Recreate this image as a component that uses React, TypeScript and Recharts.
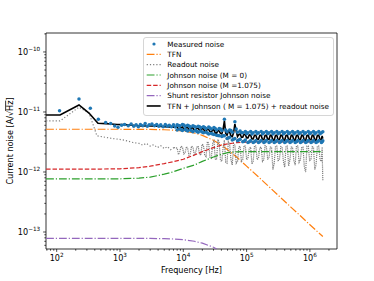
import {
  ComposedChart,
  Line,
  Scatter,
  XAxis,
  YAxis,
  Legend,
  ReferenceArea,
} from "recharts";

// frequencies in Hz, noise values in pA/√Hz

// smooth model curves
const modelFreq = [
  68, 200, 500, 1000, 2000, 3000, 5000, 7000, 10000, 15000, 20000, 30000,
  40000, 50000, 70000, 100000, 150000, 200000, 300000, 500000, 700000,
  1000000, 1600000,
];
const tfnNoise = [
  5.15, 5.15, 5.15, 5.15, 5.13, 5.12, 5.06, 4.97, 4.81, 4.46, 4.08, 3.37,
  2.81, 2.35, 1.76, 1.25, 0.85, 0.64, 0.43, 0.26, 0.188, 0.132, 0.084,
];
const johnsonM0 = [
  0.765, 0.765, 0.765, 0.77, 0.79, 0.82, 0.92, 1.01, 1.15, 1.31, 1.5, 1.78,
  1.98, 2.1, 2.17, 2.18, 2.18, 2.18, 2.18, 2.18, 2.18, 2.18, 2.18,
];
const johnsonM1075 = [
  1.12, 1.12, 1.12, 1.13, 1.18, 1.25, 1.38, 1.49, 1.63, 1.92, 2.18, 2.55,
  2.8, 2.95, 3.08, 3.14, 3.17, 3.18, 3.18, 3.18, 3.18, 3.18, 3.18,
];
const shuntNoise = [
  0.0785, 0.0785, 0.0785, 0.0785, 0.0785, 0.0783, 0.0774, 0.0764, 0.0744,
  0.0701, 0.0651, 0.0558, 0.0468, 0.04, 0.0306, 0.0224, 0.015, 0.0115,
  0.0078, 0.0047, 0.0034, 0.0024, 0.0015,
];

// low-frequency part of the noisy curves
const readoutLfFreq = [
  68, 113, 225, 324, 433, 721, 1160, 1600, 2000, 2300, 2600, 3000, 3400, 3900,
  4400, 5000, 5600, 6300, 7100,
];
const readoutLf = [
  7.1, 7.1, 12.0, 9.6, 4.0, 3.65, 3.4, 3.1, 3.0, 2.8, 3.0, 2.7, 2.85, 2.55,
  2.75, 2.45, 2.65, 2.35, 2.55,
];
const totalLfFreq = [
  68, 113, 225, 324, 449, 600, 721, 900, 1200, 1600, 2150, 3000, 4000, 5000,
  6000, 7000,
];
const totalLf = [
  8.9, 8.9, 13.1, 9.6, 6.5, 6.4, 6.3, 6.2, 6.15, 6.0, 5.85, 5.85, 5.8, 5.7,
  5.65, 5.6,
];
const measuredLfFreq = [
  111, 225, 340, 455, 594, 713, 823, 930, 1060, 1180, 1350, 1500, 1650, 1800,
  1950, 2100, 2300, 2500, 2700, 2900, 3200, 3500, 3800, 4100, 4400, 4800,
  5200, 5600, 6000, 6500, 7000, 7500,
];
const measuredLf = [
  10.5, 16.5, 11.5, 7.55, 6.7, 6.45, 5.85, 5.55, 6.0, 6.2, 5.9, 6.3, 5.8, 6.1,
  5.7, 6.2, 5.9, 6.4, 5.8, 6.1, 6.3, 5.9, 6.2, 5.8, 6.1, 5.7, 6.2, 5.8, 6.0,
  5.7, 6.1, 5.6,
];

// high-frequency part (dense, noisy): two interleaved frequency grids
const hfFreq = [
  8000, 8800, 9700, 10700, 11700, 12900, 14200, 15600, 17200, 18900, 20800,
  22900, 25200, 27700, 30500, 33500, 36900, 40600, 44600, 49100, 54000, 59400,
  65300, 71900, 79000, 86900, 95600, 105000, 116000, 127000, 140000, 154000,
  170000, 187000, 205000, 226000, 248000, 273000, 300000, 330000, 364000,
  400000, 440000, 484000, 532000, 585000, 644000, 708000, 779000, 857000,
  943000, 1040000, 1140000, 1250000, 1380000, 1520000, 1600000,
];
const hfMidFreq = [
  8400, 9240, 10200, 11200, 12300, 13500, 14900, 16400, 18000, 19800, 21800,
  24000, 26400, 29100, 32000, 35200, 38700, 42600, 46800, 51500, 56600, 62300,
  68500, 75400, 82900, 91100, 100200, 110400, 121400, 133400, 146800, 161900,
  178300, 195800, 215300, 236600, 260100, 286200, 314600, 346600, 381600,
  419500, 461500, 507500, 558000, 613800, 675200, 742600, 817100, 899000,
  990300, 1089000, 1194000, 1313000, 1447000, 1560000,
];
const readoutHf = [
  2.5, 2.2, 2.6, 2.1, 2.5, 2.0, 2.6, 2.1, 2.7, 1.9, 2.8, 1.8, 3.0, 1.7, 3.3,
  1.6, 3.1, 1.5, 3.4, 1.4, 2.9, 1.3, 2.8, 1.5, 2.7, 1.6, 2.7, 1.7, 2.6, 1.5,
  2.7, 1.7, 2.6, 1.6, 2.7, 1.7, 2.6, 1.4, 2.7, 1.6, 2.6, 1.2, 2.7, 1.6, 2.6,
  1.3, 2.7, 1.6, 2.6, 1.0, 2.7, 1.6, 2.6, 1.3, 2.7, 1.5, 0.72,
];
const readoutHfMid = [
  1.95, 2.7, 2.0, 2.65, 1.9, 2.7, 1.95, 2.6, 2.0, 2.9, 1.9, 3.2, 1.75, 3.0,
  1.65, 3.5, 1.55, 2.6, 1.45, 3.2, 1.6, 3.0, 1.4, 2.6, 1.5, 2.75, 1.6, 2.5,
  1.35, 2.75, 1.6, 2.55, 1.5, 2.75, 1.65, 2.6, 1.1, 2.7, 1.55, 2.65, 1.5, 2.7,
  1.25, 2.6, 1.55, 2.75, 1.45, 2.6, 1.2, 2.7, 1.55, 2.65, 1.1, 2.7, 1.6, 2.6,
];
const totalHf = [
  5.6, 5.3, 5.6, 5.2, 5.5, 5.1, 5.4, 5.0, 5.3, 4.9, 5.2, 4.7, 5.1, 4.6, 5.0,
  4.4, 4.8, 4.3, 7.1, 4.1, 4.6, 3.9, 6.3, 3.9, 4.3, 3.8, 4.2, 3.7, 4.1, 3.55,
  4.1, 3.5, 4.1, 3.45, 4.1, 3.5, 4.05, 3.4, 4.1, 3.45, 4.05, 3.4, 4.1, 3.45,
  4.05, 3.4, 4.1, 3.45, 4.05, 3.35, 4.1, 3.45, 4.05, 3.4, 4.1, 3.45, 3.6,
];
const totalHfMid = [
  5.2, 5.5, 5.15, 5.5, 5.1, 5.45, 5.0, 5.35, 4.95, 5.3, 4.8, 5.2, 4.7, 5.05,
  4.5, 4.95, 4.4, 5.2, 4.4, 4.8, 4.0, 4.5, 4.8, 4.2, 3.8, 4.25, 3.7, 4.15,
  3.55, 4.1, 3.5, 4.1, 3.45, 4.05, 3.5, 4.1, 3.4, 4.05, 3.45, 4.1, 3.4, 4.05,
  3.45, 4.1, 3.4, 4.05, 3.45, 4.1, 3.35, 4.05, 3.45, 4.1, 3.4, 4.05, 3.45, 4.0,
];
const measuredHfUpper = [
  6.1, 5.9, 6.2, 5.8, 6.0, 5.7, 5.9, 5.6, 5.8, 5.5, 5.7, 5.3, 5.6, 5.2, 5.5,
  5.0, 5.3, 4.9, 7.6, 4.7, 5.0, 4.6, 6.9, 4.6, 4.8, 4.5, 4.75, 4.5, 4.75,
  4.5, 4.75, 4.5, 4.75, 4.5, 4.75, 4.5, 4.75, 4.5, 4.75, 4.5, 4.75, 4.5, 4.75,
  4.5, 4.75, 4.5, 4.75, 4.5, 4.75, 4.5, 4.75, 4.5, 4.75, 4.5, 4.75, 4.5, 4.7,
];
const measuredHfLower = [
  5.0, 5.2, 4.9, 5.1, 4.8, 5.0, 4.7, 4.9, 4.6, 4.8, 4.5, 4.6, 4.3, 4.4, 4.2,
  4.1, 4.0, 3.9, 4.0, 3.6, 3.8, 3.4, 3.6, 3.3, 3.5, 3.2, 3.4, 3.1, 3.35, 3.1,
  3.35, 3.1, 3.35, 3.1, 3.35, 3.1, 3.35, 3.1, 3.35, 3.1, 3.35, 3.1, 3.35, 3.1,
  3.35, 3.1, 3.35, 3.1, 3.35, 3.1, 3.35, 3.1, 3.35, 3.1, 3.35, 3.1, 3.3,
];
const measuredHfMid = [
  5.95, 5.05, 6.05, 4.95, 5.85, 4.85, 5.75, 4.75, 5.7, 4.65, 5.5, 4.45, 5.4,
  4.3, 5.3, 4.05, 5.2, 4.0, 5.0, 3.7, 4.9, 3.5, 5.2, 3.4, 4.5, 3.25, 4.35,
  3.2, 4.3, 3.2, 4.35, 3.2, 4.3, 3.2, 4.35, 3.2, 4.3, 3.2, 4.35, 3.2, 4.3,
  3.2, 4.35, 3.2, 4.3, 3.2, 4.35, 3.2, 4.3, 3.2, 4.35, 3.2, 4.3, 3.2, 4.35,
  3.2,
];

const xTicks = [
  70, 80, 90, 100, 200, 300, 400, 500, 600, 700, 800, 900, 1000, 2000, 3000,
  4000, 5000, 6000, 7000, 8000, 9000, 10000, 20000, 30000, 40000, 50000,
  60000, 70000, 80000, 90000, 100000, 200000, 300000, 400000, 500000, 600000,
  700000, 800000, 900000, 1000000, 2000000,
];
const yTicks = [
  0.06, 0.07, 0.08, 0.09, 0.1, 0.2, 0.3, 0.4, 0.5, 0.6, 0.7, 0.8, 0.9, 1, 2,
  3, 4, 5, 6, 7, 8, 9, 10, 20, 30, 40, 50, 60, 70, 80, 90, 100, 200,
];

const legendLabels = [
  "Measured noise",
  "TFN",
  "Readout noise",
  "Johnson noise (M = 0)",
  "Johnson noise (M =1.075)",
  "Shunt resistor Johnson noise",
  "TFN + Johnson ( M = 1.075) + readout noise",
];

const X_DOMAIN: [number, number] = [67.8, 2.68e6];
const Y_DOMAIN: [number, number] = [0.0521, 207];

const DASHDOT = "7.8 1.95 1.2 1.95";
const DASHED = "4.5 1.95";
const DOTTED = "1.2 2";

const styles = [
  { color: "#1f77b4", dash: "", width: 0 },
  { color: "#ff7f0e", dash: DASHDOT, width: 1.2 },
  { color: "#7f7f7f", dash: DOTTED, width: 1.2 },
  { color: "#2ca02c", dash: DASHDOT, width: 1.2 },
  { color: "#d62728", dash: DASHED, width: 1.2 },
  { color: "#9467bd", dash: DASHDOT, width: 1.2 },
  { color: "#000000", dash: "", width: 1.6 },
];

const pts = (freq: number[], vals: number[]) =>
  freq.map((f, i) => ({ f, v: vals[i] }));
const byFreq = (a: { f: number }, b: { f: number }) => a.f - b.f;

const measuredData = [
  ...pts(measuredLfFreq, measuredLf),
  ...pts(hfFreq, measuredHfUpper),
  ...pts(hfFreq, measuredHfLower),
  ...pts(hfMidFreq, measuredHfMid),
];
const tfnData = pts(modelFreq, tfnNoise);
const readoutLfData = pts(readoutLfFreq, readoutLf);
// the dense part overlaps itself so much that it reads as a solid band
const readoutHfData = [
  readoutLfData[readoutLfData.length - 1],
  ...[...pts(hfFreq, readoutHf), ...pts(hfMidFreq, readoutHfMid)].sort(byFreq),
];
const j0Data = pts(modelFreq, johnsonM0);
const j1Data = pts(modelFreq, johnsonM1075);
const shuntData = pts(modelFreq, shuntNoise);
const totalData = [
  ...pts(totalLfFreq, totalLf),
  ...[...pts(hfFreq, totalHf), ...pts(hfMidFreq, totalHfMid)].sort(byFreq),
];

const FONT = 8.1;
const SUP = 5.7;
const LEGEND_FONT = 7.25;

function isMajor(v: number) {
  const lg = Math.log10(v);
  return Math.abs(lg - Math.round(lg)) < 1e-6;
}

function XTick({ x, y, payload }: any) {
  const major = isMajor(payload.value);
  const exp = Math.round(Math.log10(payload.value));
  return (
    <g>
      <line x1={x} x2={x} y1={y} y2={y + (major ? 2.9 : 1.7)} stroke="#000" strokeWidth={0.7} />
      {major && (
        <text x={x} y={y + 12} textAnchor="middle" fontSize={FONT} fill="#000">
          10<tspan dy={-3.6} fontSize={SUP}>{exp}</tspan>
        </text>
      )}
    </g>
  );
}

function YTick({ x, y, payload }: any) {
  const major = isMajor(payload.value);
  const exp = Math.round(Math.log10(payload.value)) - 12;
  return (
    <g>
      <line x1={x - (major ? 2.9 : 1.7)} x2={x} y1={y} y2={y} stroke="#000" strokeWidth={0.7} />
      {major && (
        <text x={x - 5.8} y={y + 3} textAnchor="end" fontSize={FONT} fill="#000">
          10<tspan dy={-3.6} fontSize={SUP}>{"\u2212" + Math.abs(exp)}</tspan>
        </text>
      )}
    </g>
  );
}

function renderLegend() {
  return (
    <svg width={191} height={79} style={{ display: "block" }}>
      <rect x={0.5} y={0.5} width={190} height={78} rx={2.5} fill="#fff" fillOpacity={0.8} stroke="#cccccc" strokeWidth={0.8} />
      {legendLabels.map((label, i) => {
        const cy = 7 + i * 10.33;
        const s = styles[i];
        return (
          <g key={label}>
            {i === 0 ? (
              <circle cx={11} cy={cy} r={1.6} fill={s.color} />
            ) : (
              <line x1={3.7} x2={17.7} y1={cy} y2={cy} stroke={s.color} strokeWidth={s.width} strokeDasharray={s.dash || undefined} />
            )}
            <text x={24.3} y={cy + 2.6} fontSize={LEGEND_FONT} fill="#000">
              {label}
            </text>
          </g>
        );
      })}
    </svg>
  );
}

function lineProps(k: number) {
  const s = styles[k];
  return {
    dataKey: "v",
    type: "linear" as const,
    stroke: s.color,
    strokeWidth: s.width,
    strokeDasharray: s.dash || undefined,
    dot: false,
    activeDot: false,
    isAnimationActive: false,
  };
}

export default function App() {
  return (
    <div
      style={{
        position: "absolute",
        left: 0,
        top: 0,
        width: 374,
        height: 281,
        background: "#fff",
        fontFamily: '"DejaVu Sans", sans-serif',
      }}
    >
      <ComposedChart
        width={374}
        height={281}
        margin={{ top: 33, right: 37, bottom: 0, left: 0 }}
      >
        <XAxis
          type="number"
          dataKey="f"
          scale="log"
          domain={X_DOMAIN}
          allowDataOverflow
          ticks={xTicks}
          interval={0}
          tick={<XTick />}
          tickLine={false}
          axisLine={false}
          tickSize={0}
          tickMargin={0}
          height={32}
        />
        <YAxis
          type="number"
          scale="log"
          domain={Y_DOMAIN}
          allowDataOverflow
          ticks={yTicks}
          interval={0}
          tick={<YTick />}
          tickLine={false}
          axisLine={false}
          tickSize={0}
          tickMargin={0}
          width={46}
        />

        <Scatter
          data={measuredData}
          dataKey="v"
          isAnimationActive={false}
          shape={(p: any) => <circle cx={p.cx} cy={p.cy} r={1.75} fill={styles[0].color} />}
        />
        <Line data={tfnData} {...lineProps(1)} />
        <Line data={readoutLfData} {...lineProps(2)} />
        <Line data={readoutHfData} {...lineProps(2)} strokeDasharray="1.2 0.9" />
        <Line data={j0Data} {...lineProps(3)} />
        <Line data={j1Data} {...lineProps(4)} />
        <Line data={shuntData} {...lineProps(5)} />
        <Line data={totalData} {...lineProps(6)} />

        <ReferenceArea
          x1={X_DOMAIN[0]}
          x2={X_DOMAIN[1]}
          y1={Y_DOMAIN[0]}
          y2={Y_DOMAIN[1]}
          fill="none"
          stroke="#000"
          strokeWidth={0.8}
        />

        <Legend
          layout="vertical"
          align="center"
          verticalAlign="middle"
          content={renderLegend}
          wrapperStyle={{ left: 143, top: 37, width: 191, height: 79, lineHeight: 0 }}
        />
      </ComposedChart>

      <svg
        width={374}
        height={281}
        style={{ position: "absolute", left: 0, top: 0, pointerEvents: "none" }}
      >
        <text x={191.5} y={272.5} textAnchor="middle" fontSize={FONT} fill="#000">
          Frequency [Hz]
        </text>
        <text
          transform="translate(13.3,141) rotate(-90)"
          textAnchor="middle"
          fontSize={FONT}
          fill="#000"
        >
          Current noise [A/√<tspan style={{ textDecoration: "overline" }}>Hz</tspan>]
        </text>
      </svg>
    </div>
  );
}
